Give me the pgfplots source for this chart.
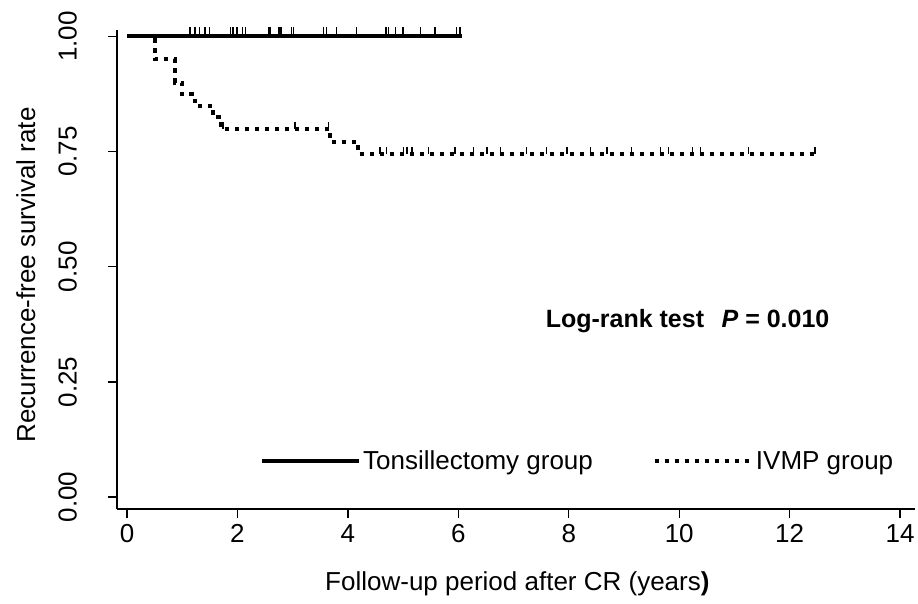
\documentclass[border=0pt]{standalone}
\usepackage{fontspec}
\setmainfont{Liberation Sans}
\usepackage{pgfplots}
\pgfplotsset{compat=1.18}

\newcommand\fs{\fontsize{26bp}{31bp}\selectfont}

% censoring tick: a short stroke straight up from the point
\pgfdeclareplotmark{cens}{%
  \pgfpathmoveto{\pgfpoint{0pt}{0pt}}%
  \pgfpathlineto{\pgfpoint{0pt}{\pgfplotmarksize}}%
  \pgfusepathqstroke}

\begin{document}
\begin{tikzpicture}
\begin{axis}[
    scale only axis,
    width=798bp, height=479bp,
    xmin=-0.181, xmax=14.27,
    ymin=-0.026, ymax=1.014,
    clip=false,
    axis lines*=left,
    axis line style={-, line width=1.3bp},
    xtick={0,2,4,6,8,10,12,14},
    ytick={0,0.25,0.5,0.75,1},
    yticklabels={0.00,0.25,0.50,0.75,1.00},
    xtick pos=bottom, ytick pos=left,
    tick align=outside,
    major tick length=9bp,
    every tick/.style={black, line width=1.3bp},
    /pgf/number format/assume math mode=true,
    ticklabel style={font=\fs},
    yticklabel style={rotate=90, anchor=south, inner sep=0pt},
    yticklabel shift=31bp,
    xticklabel style={anchor=north, inner sep=0pt},
    xticklabel shift=6bp,
    xlabel={Follow-up period after CR (years\textbf{)}},
    ylabel={Recurrence-free survival rate},
    xlabel style={at={(axis cs:7.07,-0.202)}, anchor=base, font=\fs},
    ylabel style={at={(axis cs:-1.83,0.482)}, anchor=center, rotate=0, font=\fs},
    legend columns=2,
    legend style={draw=none, fill=none, font=\fs,
        at={(axis description cs:0.1792,0.1002)}, anchor=west, inner sep=0pt,
        /tikz/every even column/.append style={column sep=58bp}},
    legend image code/.code={\draw[#1] (0bp,0bp) -- (87bp,0bp); \path (0bp,0bp) -- (97bp,0bp);},
]

% Tonsillectomy group
\addplot[const plot, black, line width=4bp] coordinates {
(0,1) (6.06,1)
};
\addlegendentry{Tonsillectomy group}

% IVMP group
\addplot[const plot, black, line width=4bp, dash pattern=on 4.5bp off 5.5bp] coordinates {
(0,1)
(0.51,0.950)
(0.87,0.900)
(0.99,0.875)
(1.23,0.850)
(1.56,0.825)
(1.71,0.800)
(3.68,0.771)
(4.19,0.745)
(12.46,0.745)
};
\addlegendentry{IVMP group}

% censored, tonsillectomy
\addplot[only marks, mark=cens, mark size=9bp, mark options={black, solid, line width=1.3bp}, forget plot] coordinates {
(1.14,1) (1.23,1) (1.31,1) (1.41,1) (1.49,1) (1.88,1) (1.92,1) (1.99,1)
(2.09,1) (2.14,1) (2.56,1) (2.59,1) (2.74,1) (2.77,1) (2.80,1) (2.98,1)
(3.01,1) (3.56,1) (3.61,1) (3.80,1) (4.16,1) (4.69,1) (4.73,1) (4.86,1)
(5.00,1) (5.31,1) (5.58,1) (5.97,1) (6.03,1)
};

% censored, IVMP
\addplot[only marks, mark=cens, mark size=7bp, mark options={black, solid, line width=1.3bp}, forget plot] coordinates {
(1.74,0.800) (3.04,0.800) (3.65,0.800)
(4.58,0.745) (4.70,0.745) (5.01,0.745) (5.07,0.745) (5.16,0.745) (5.46,0.745)
(5.94,0.745) (6.27,0.745) (6.52,0.745) (6.76,0.745) (7.24,0.745) (7.60,0.745)
(7.97,0.745) (8.39,0.745) (8.69,0.745) (9.14,0.745) (9.66,0.745) (9.80,0.745)
(10.24,0.745) (10.38,0.745) (11.25,0.745) (12.46,0.745)
};

\node[anchor=base west, font=\fs\fontsize{25bp}{30bp}\selectfont\bfseries]
    at (axis cs:7.52,0.367) {Log-rank test\hspace{0.7em}\textit{P} = 0.010};

\end{axis}
\pgfresetboundingbox
\path ([shift={(-117bp,-95bp)}]current axis.south west) rectangle ([shift={(3bp,30bp)}]current axis.north east);
\end{tikzpicture}
\end{document}
